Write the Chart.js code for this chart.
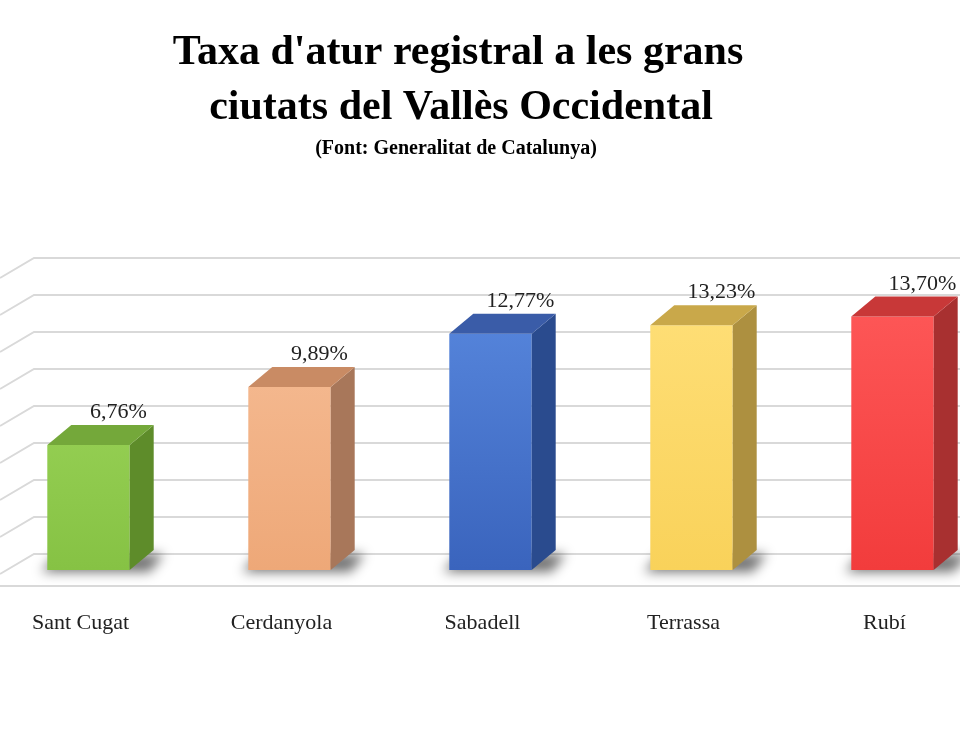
<!DOCTYPE html>
<html><head><meta charset="utf-8">
<script src="https://cdn.jsdelivr.net/npm/chart.js@4.4.0/dist/chart.umd.min.js"></script>
<style>html,body{margin:0;padding:0;background:#fff;overflow:hidden;width:960px;height:750px}
#wrap{position:absolute;left:-12px;top:0;width:1010px;height:750px}</style>
</head><body><div id="wrap"><canvas id="c" width="1010" height="750"></canvas></div>
<script>
const categories = ["Sant Cugat","Cerdanyola","Sabadell","Terrassa","Rubí"];
const values = [6.76, 9.89, 12.77, 13.23, 13.70];
const valueLabels = ["6,76%","9,89%","12,77%","13,23%","13,70%"];
const gridTicks = [0,2,4,6,8,10,12,14,16];
const titleLines = ["Taxa d'atur registral a les grans","ciutats del Vallès Occidental"];
const subtitle = "(Font: Generalitat de Catalunya)";
const palette = [
 {front:["#a4dc62","#86c244"],side:"#5e8c2a",top:"#74a83a"},
 {front:["#f7c09a","#eea878"],side:"#a8775a",top:"#c98b64"},
 {front:["#5a8ae0","#3a64bd"],side:"#2a4b8e",top:"#3a5ca8"},
 {front:["#ffe07a","#f9d25a"],side:"#ad9040",top:"#c9a84a"},
 {front:["#ff5a5a","#f23c3c"],side:"#a83030",top:"#c83838"}
];
const DX=24, DY=20;
const bar3d = {
 id:'bar3d',
 beforeDatasetsDraw(chart){
  const ctx=chart.ctx, y=chart.scales.y, a=chart.chartArea;
  ctx.save();
  ctx.strokeStyle="#d9d9d9"; ctx.lineWidth=2;
  gridTicks.forEach(v=>{
   const py=y.getPixelForValue(v);
   ctx.beginPath(); ctx.moveTo(12,py+DY*0.2); ctx.lineTo(12+DX+10,py-DY+4);
   ctx.lineTo(a.right+20,py-DY+4); ctx.stroke();
  });
  const z=y.getPixelForValue(0);
  ctx.beginPath(); ctx.moveTo(12,z+16); ctx.lineTo(a.right+20,z+16); ctx.stroke();
  const meta=chart.getDatasetMeta(0);
  meta.data.forEach(b=>{
   ctx.save(); ctx.filter="blur(6px)"; ctx.fillStyle="rgba(0,0,0,0.55)";
   ctx.beginPath(); ctx.moveTo(b.x-b.width/2-6,z+2); ctx.lineTo(b.x+b.width/2+DX-4,z+2);
   ctx.lineTo(b.x+b.width/2+DX+10,z-DY+4); ctx.lineTo(b.x-b.width/2+10,z-DY+4); ctx.closePath(); ctx.fill();
   ctx.restore();
  });
  ctx.restore();
 },
 afterDatasetsDraw(chart){
  const ctx=chart.ctx, meta=chart.getDatasetMeta(0);
  ctx.save();
  meta.data.forEach((b,i)=>{
   const l=b.x-b.width/2, r=b.x+b.width/2, t=b.y, bt=b.base, p=palette[i];
   ctx.fillStyle=p.side;
   ctx.beginPath(); ctx.moveTo(r,t); ctx.lineTo(r+DX,t-DY); ctx.lineTo(r+DX,bt-DY); ctx.lineTo(r,bt); ctx.closePath(); ctx.fill();
   ctx.fillStyle=p.top;
   ctx.beginPath(); ctx.moveTo(l,t); ctx.lineTo(l+DX,t-DY); ctx.lineTo(r+DX,t-DY); ctx.lineTo(r,t); ctx.closePath(); ctx.fill();
   ctx.fillStyle="#222"; ctx.font="22px 'Liberation Serif', serif"; ctx.textAlign="center"; ctx.textBaseline="alphabetic";
   ctx.fillText(valueLabels[i], b.x+30, t-27);
   ctx.fillText(categories[i], b.x-8, 629);
  });
  ctx.fillStyle="#000"; ctx.textAlign="center";
  ctx.font="bold 42px 'Liberation Serif', serif";
  ctx.fillText(titleLines[0], 470, 64);
  ctx.fillText(titleLines[1], 473, 119);
  ctx.font="bold 20px 'Liberation Serif', serif";
  ctx.fillText(subtitle, 468, 154);
  ctx.restore();
 }
};
new Chart(document.getElementById('c'),{
 type:'bar',
 data:{labels:categories,datasets:[{data:values,
  backgroundColor:(c)=>{const ch=c.chart,a=ch.chartArea;if(!a)return "#888";const i=c.dataIndex;
   const g=ch.ctx.createLinearGradient(0,a.top,0,a.bottom);g.addColorStop(0,palette[i].front[0]);g.addColorStop(1,palette[i].front[1]);return g;},
  barPercentage:0.41,categoryPercentage:1}]},
 options:{responsive:false,animation:false,devicePixelRatio:1,
  layout:{padding:{top:274,bottom:180,left:0,right:5}},
  plugins:{legend:{display:false},tooltip:{enabled:false}},
  scales:{x:{display:false},y:{display:false,min:0,max:16}}},
 plugins:[bar3d]
});
</script></body></html>
